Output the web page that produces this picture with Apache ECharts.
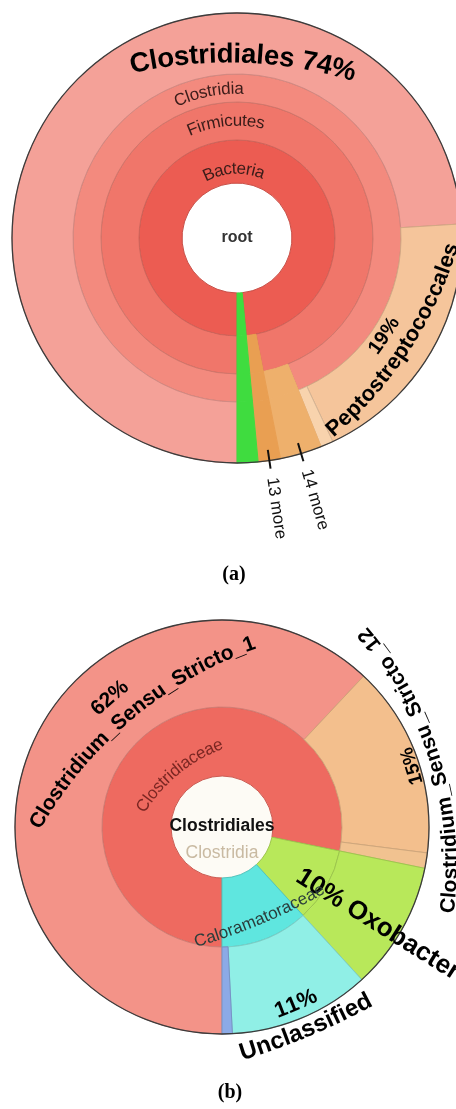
<!DOCTYPE html>
<html>
<head>
<meta charset="utf-8">
<script src="https://cdn.jsdelivr.net/npm/echarts@6/dist/echarts.min.js"></script>
<style>
  html, body { margin: 0; padding: 0; background: #ffffff; }
  #chart { width: 456px; height: 1109px; }
</style>
</head>
<body>
<div id="chart"></div>
<script>
// ---------- Panel (a): Krona view from root down to order (percent of reads) ----------
const A_LINEAGE = ['root', 'Bacteria', 'Firmicutes', 'Clostridia'];
const A_ORDERS = ['Clostridiales', 'Peptostreptococcales', 'Other orders'];
const A_ORDER_PCT = [74, 19, 0.9];
const A_COLLAPSED = ['14 more', '13 more'];      // other Firmicutes classes, other bacterial phyla
const A_COLLAPSED_PCT = [3.0, 1.6];
const A_OTHER_NAME = 'Other';                     // reads outside Bacteria
const A_OTHER_PCT = 1.5;

// ---------- Panel (b): Clostridiales down to genus (percent of reads) ----------
const B_LINEAGE = ['Clostridiales', 'Clostridia'];
const B_FAMILIES = ['Clostridiaceae', 'Oxobacter group', 'Caloramatoraceae'];
const B_GENERA = [
  ['Clostridium_Sensu_Stricto_1', 'Clostridium_Sensu_Stricto_12', 'Other genera'],
  ['Oxobacter'],
  ['Unclassified', 'Other genera ']
];
const B_GENUS_PCT = [[62, 15, 1.2], [10], [11, 0.8]];

// ---------- colours ----------
const COL_A = {
  root: '#ffffff', Bacteria: '#ec5c52', Firmicutes: '#f0766a', Clostridia: '#f38a7e',
  orders: ['#f4a198', '#f5c59b', '#f8d3ad'],
  collapsed: ['#eeb06c', '#e99f52'],
  other: '#3fdc3f'
};
const COL_B = {
  root: '#fdfbf5',
  families: ['#ee6a60', '#b8e85a', '#5fe6df'],
  genera: [['#f39388', '#f3bf8d', '#f1c290'], ['#b8e85a'], ['#90efe6', '#8caae6']]
};

const sum = arr => arr.reduce((a, b) => a + b, 0);

function shade(hex, f) {
  const n = parseInt(hex.slice(1), 16);
  const r = Math.round(((n >> 16) & 255) * f), g = Math.round(((n >> 8) & 255) * f), b = Math.round((n & 255) * f);
  return 'rgb(' + r + ',' + g + ',' + b + ')';
}
function style(color, extra) {
  return Object.assign({ color: color, borderColor: shade(color, 0.86), borderWidth: 1 }, extra || {});
}
const HATCH = {
  symbol: 'rect', symbolSize: 1, color: 'rgba(190,110,40,0.22)',
  dashArrayX: [2, 2], dashArrayY: [2, 2], rotation: Math.PI / 4
};
// A wedge that keeps the same colour out to the outermost ring
function chain(name, value, color, depth, hatch) {
  const st = { color: color, borderColor: color, borderWidth: 1 };
  if (hatch) st.decal = HATCH;
  let node = { name: name, value: value, itemStyle: st };
  for (let i = 1; i < depth; i++) node = { name: name, value: value, itemStyle: st, children: [node] };
  return node;
}

// ---------- tree (a) ----------
const aClostridia = sum(A_ORDER_PCT);
const aFirmicutes = aClostridia + A_COLLAPSED_PCT[0];
const aBacteria = aFirmicutes + A_COLLAPSED_PCT[1];
const aTotal = aBacteria + A_OTHER_PCT;

const treeA = {
  name: A_LINEAGE[0], value: aTotal, itemStyle: style(COL_A.root, { borderColor: '#e8d0cc' }),
  children: [
    {
      name: A_LINEAGE[1], value: aBacteria, itemStyle: style(COL_A.Bacteria),
      children: [
        {
          name: A_LINEAGE[2], value: aFirmicutes, itemStyle: style(COL_A.Firmicutes),
          children: [
            {
              name: A_LINEAGE[3], value: aClostridia, itemStyle: style(COL_A.Clostridia),
              children: A_ORDERS.map((n, i) => ({ name: n, value: A_ORDER_PCT[i], itemStyle: style(COL_A.orders[i]) }))
            },
            chain(A_COLLAPSED[0], A_COLLAPSED_PCT[0], COL_A.collapsed[0], 2, true)
          ]
        },
        chain(A_COLLAPSED[1], A_COLLAPSED_PCT[1], COL_A.collapsed[1], 3, true)
      ]
    },
    chain(A_OTHER_NAME, A_OTHER_PCT, COL_A.other, 4, false)
  ]
};

// ---------- tree (b) ----------
const bFamilyPct = B_GENUS_PCT.map(sum);
const bTotal = sum(bFamilyPct);
const treeB = {
  name: B_LINEAGE[0], value: bTotal, itemStyle: style(COL_B.root, { borderColor: '#efe6da' }),
  children: B_FAMILIES.map((f, i) => ({
    name: f, value: bFamilyPct[i], itemStyle: style(COL_B.families[i]),
    children: B_GENERA[i].map((g, j) => ({
      name: g, value: B_GENUS_PCT[i][j],
      itemStyle: style(COL_B.genera[i][j], (i === 0 && j === 2) || (i === 2 && j === 1) ? { decal: HATCH } : null)
    }))
  }))
};

// ---------- geometry ----------
const CA = [237, 238], RA = [55, 98, 136, 164, 225];
const CB = [222, 827], RB = [51, 120, 207];

function series(center, radii, tree) {
  const levels = [{}];
  let prev = 0;
  radii.forEach(r => { levels.push({ r0: prev, r: r }); prev = r; });
  return {
    type: 'sunburst', center: center, radius: [0, radii[radii.length - 1]],
    startAngle: 270, clockwise: true, sort: null, nodeClick: false,
    emphasis: { disabled: true }, label: { show: false },
    levels: levels, data: [tree]
  };
}

// ---------- text helpers (angles are degrees clockwise from 12 o'clock) ----------
const FONT = '"Liberation Sans", Arial, Helvetica, sans-serif';
const ctx = document.createElement('canvas').getContext('2d');
function width(str, font) { ctx.font = font; return ctx.measureText(str).width; }
function polar(c, deg, r) { const t = deg * Math.PI / 180; return [c[0] + r * Math.sin(t), c[1] - r * Math.cos(t)]; }
// fraction of the circle -> angle; every chart starts at 6 o'clock and runs clockwise
function midAngle(from, to, total) { return 180 + 360 * ((from + to) / 2) / total; }

// Text laid along an arc. dir 'cw': reads clockwise, tops outward; 'ccw': reads anticlockwise, tops inward.
function arcText(out, text, o) {
  const font = o.font;
  const phi = (o.phi != null ? o.phi : o.theta) * Math.PI / 180;
  const P = polar(o.c, o.theta, o.r);
  let u, t;
  if (o.dir === 'cw') { u = [Math.sin(phi), -Math.cos(phi)]; t = [Math.cos(phi), Math.sin(phi)]; }
  else { u = [-Math.sin(phi), Math.cos(phi)]; t = [-Math.cos(phi), -Math.sin(phi)]; }
  const Rc = o.curve || o.r;
  const k = o.dir === 'cw' ? -1 : 1;
  const C0 = [P[0] + k * Rc * u[0], P[1] + k * Rc * u[1]];
  const chars = Array.from(text);
  const ws = chars.map(ch => width(ch, font));
  let acc = -sum(ws) / 2;
  chars.forEach((ch, i) => {
    const s = acc + ws[i] / 2; acc += ws[i];
    const a = s / Rc;
    const x = C0[0] - k * Rc * Math.cos(a) * u[0] + Rc * Math.sin(a) * t[0];
    const y = C0[1] - k * Rc * Math.cos(a) * u[1] + Rc * Math.sin(a) * t[1];
    const dx = k * Math.sin(a) * u[0] + Math.cos(a) * t[0];
    const dy = k * Math.sin(a) * u[1] + Math.cos(a) * t[1];
    out.push({
      type: 'text', x: x, y: y, rotation: Math.atan2(-dy, dx), z: 100, silent: true,
      style: { text: ch, font: font, fill: o.color, align: 'center', verticalAlign: 'middle' }
    });
  });
}
function radialText(out, text, c, theta, r0, font, color) {
  const p = polar(c, theta, r0), t = theta * Math.PI / 180;
  out.push({
    type: 'text', x: p[0], y: p[1], rotation: Math.atan2(Math.cos(t), Math.sin(t)), z: 100, silent: true,
    style: { text: text, font: font, fill: color, align: 'left', verticalAlign: 'middle' }
  });
}
function plainText(out, text, x, y, font, color) {
  out.push({ type: 'text', x: x, y: y, z: 100, silent: true,
    style: { text: text, font: font, fill: color, align: 'center', verticalAlign: 'middle' } });
}
function tick(out, c, theta, r0, r1) {
  const p0 = polar(c, theta, r0), p1 = polar(c, theta, r1);
  out.push({ type: 'line', z: 100, silent: true, shape: { x1: p0[0], y1: p0[1], x2: p1[0], y2: p1[1] },
    style: { stroke: '#111', lineWidth: 2 } });
}
function outline(out, c, r) {
  out.push({ type: 'circle', z: 90, silent: true, shape: { cx: c[0], cy: c[1], r: r },
    style: { fill: null, stroke: '#3c3c3c', lineWidth: 1.3 } });
}

const g = [];
const bold = px => 'bold ' + px + 'px ' + FONT;
const reg = px => px + 'px ' + FONT;

// ----- labels (a) -----
outline(g, CA, RA[4]);
plainText(g, A_LINEAGE[0], CA[0], CA[1], bold(16), '#333333');
arcText(g, A_LINEAGE[1], { c: CA, r: 69, theta: midAngle(0, aBacteria, aTotal), dir: 'cw', font: reg(17), color: '#3b1c19' });
arcText(g, A_LINEAGE[2], { c: CA, r: 117, theta: midAngle(0, aFirmicutes, aTotal), dir: 'cw', font: reg(17), color: '#3b1c19' });
arcText(g, A_LINEAGE[3], { c: CA, r: 149, theta: midAngle(0, aClostridia, aTotal), dir: 'cw', font: reg(17), color: '#3b1c19' });
arcText(g, A_ORDERS[0] + ' ' + A_ORDER_PCT[0] + '%', { c: CA, r: 183, theta: 2, dir: 'cw', curve: 440, font: bold(27.5), color: '#000' });
const pepMid = midAngle(A_ORDER_PCT[0], A_ORDER_PCT[0] + A_ORDER_PCT[1], aTotal);
arcText(g, A_ORDER_PCT[1] + '%', { c: CA, r: 177, theta: pepMid + 3, dir: 'ccw', curve: 400, font: bold(20), color: '#000' });
arcText(g, A_ORDERS[1], { c: CA, r: 200, theta: pepMid + 2.5, dir: 'ccw', curve: 400, font: bold(22), color: '#000' });
const moreSpans = [[aClostridia, aFirmicutes], [aFirmicutes, aBacteria]];
A_COLLAPSED.forEach((name, i) => {
  const th = midAngle(moreSpans[i][0], moreSpans[i][1], aTotal);
  tick(g, CA, th, 214, 233);
  radialText(g, name, CA, th, 242, reg(17), '#111');
});
plainText(g, '(a)', 234, 575, 'bold 20px "Liberation Serif", "Times New Roman", serif', '#000');

// ----- labels (b) -----
outline(g, CB, RB[2]);
plainText(g, B_LINEAGE[0], CB[0], CB[1] - 1, bold(17.5), '#111');
plainText(g, B_LINEAGE[1], CB[0], CB[1] + 26, reg(17.5), '#c9baa2');
const bCum = [0];
B_GENUS_PCT.flat().forEach(v => bCum.push(bCum[bCum.length - 1] + v));
arcText(g, B_FAMILIES[0], { c: CB, r: 73, theta: midAngle(0, bFamilyPct[0], bTotal), dir: 'cw', curve: 160, font: reg(17), color: '#7a2622' });
arcText(g, B_GENUS_PCT[0][0] + '%', { c: CB, r: 171, theta: -41, dir: 'cw', curve: 410, font: bold(21), color: '#000' });
arcText(g, B_GENERA[0][0], { c: CB, r: 146, theta: -40, dir: 'cw', curve: 410, font: bold(21), color: '#000' });
const css12Mid = midAngle(bCum[1], bCum[2], bTotal);
arcText(g, B_GENUS_PCT[0][1] + '%', { c: CB, r: 200, theta: css12Mid + 2, dir: 'ccw', curve: 360, font: bold(19), color: '#000' });
arcText(g, B_GENERA[0][1], { c: CB, r: 223, theta: css12Mid + 3, dir: 'ccw', curve: 360, font: bold(21), color: '#000' });
radialText(g, B_GENUS_PCT[1][0] + '% ' + B_GENERA[1][0], CB, midAngle(bCum[3], bCum[4], bTotal) + 2.5, 90, bold(26), '#000');
arcText(g, B_FAMILIES[2], { c: CB, r: 100, theta: midAngle(bFamilyPct[0] + bFamilyPct[1], bTotal, bTotal) - 1.5, dir: 'ccw', curve: 600, font: reg(17), color: '#2a3d3b' });
const unclMid = midAngle(bCum[4], bCum[5], bTotal);
arcText(g, B_GENUS_PCT[2][0] + '%', { c: CB, r: 192, theta: unclMid, dir: 'ccw', curve: 600, font: bold(22), color: '#000' });
arcText(g, B_GENERA[2][0], { c: CB, r: 220, theta: unclMid, dir: 'ccw', curve: 700, font: bold(24), color: '#000' });
plainText(g, '(b)', 230, 1093, 'bold 20px "Liberation Serif", "Times New Roman", serif', '#000');

const chart = echarts.init(document.getElementById('chart'), null, { renderer: 'canvas' });
chart.setOption({
  animation: false,
  backgroundColor: '#ffffff',
  series: [series(CA, RA, treeA), series(CB, RB, treeB)],
  graphic: { elements: g }
});
</script>
</body>
</html>
